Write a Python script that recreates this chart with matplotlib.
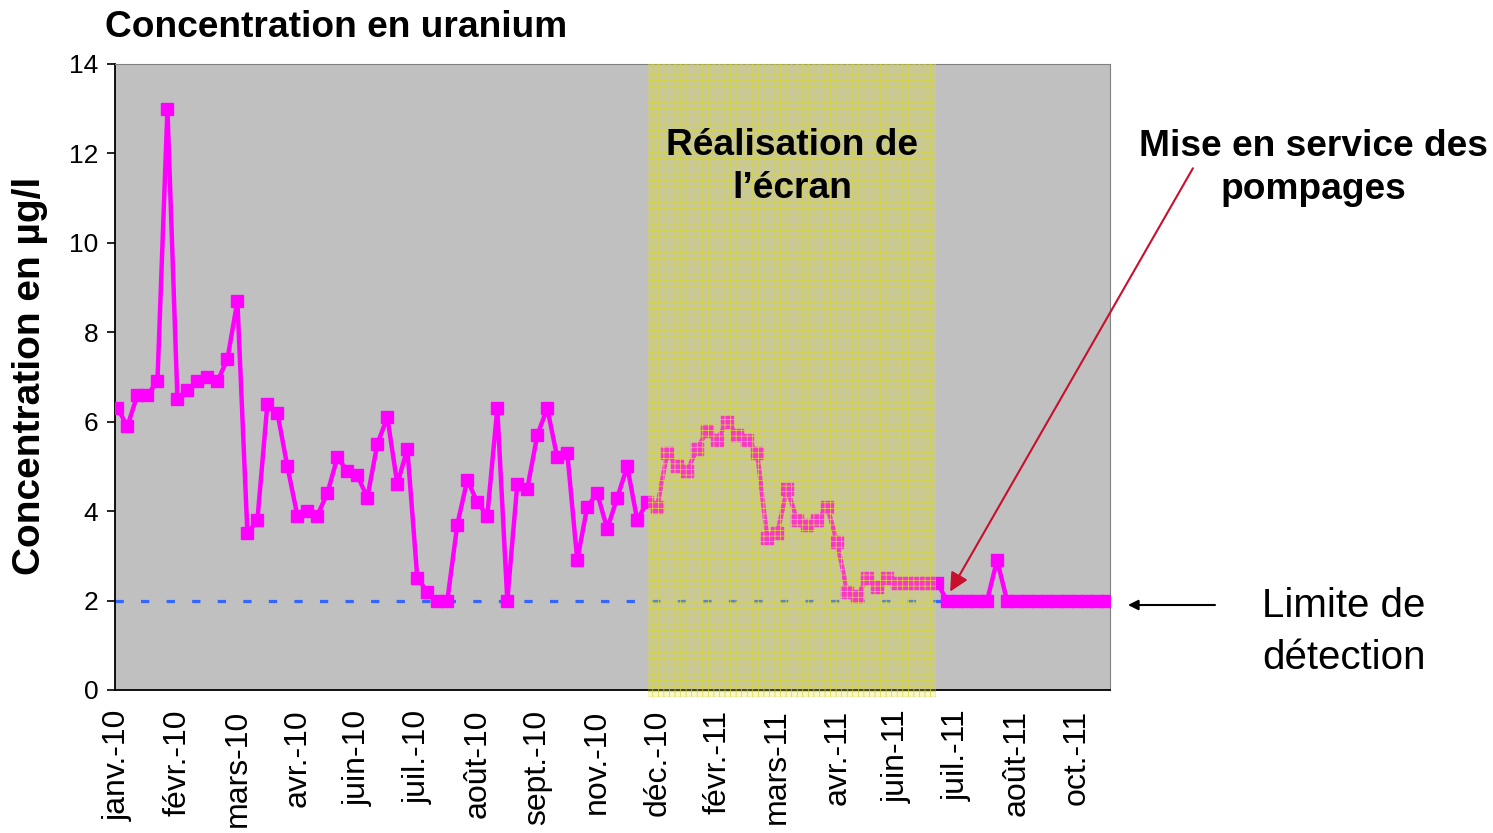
import numpy as np
from matplotlib import pyplot as plt
from matplotlib.patches import Rectangle

# uranium concentration (µg/l), one value per sample
uranium = [6.3, 5.9, 6.6, 6.6, 6.9, 13.0, 6.5, 6.7, 6.9, 7.0,
           6.9, 7.4, 8.7, 3.5, 3.8, 6.4, 6.2, 5.0, 3.9, 4.0,
           3.9, 4.4, 5.2, 4.9, 4.8, 4.3, 5.5, 6.1, 4.6, 5.4,
           2.5, 2.2, 2.0, 2.0, 3.7, 4.7, 4.2, 3.9, 6.3, 2.0,
           4.6, 4.5, 5.7, 6.3, 5.2, 5.3, 2.9, 4.1, 4.4, 3.6,
           4.3, 5.0, 3.8, 4.2, 4.1, 5.3, 5.0, 4.9, 5.4, 5.8,
           5.6, 6.0, 5.7, 5.6, 5.3, 3.4, 3.5, 4.5, 3.8, 3.7,
           3.8, 4.1, 3.3, 2.2, 2.1, 2.5, 2.3, 2.5, 2.4, 2.4,
           2.4, 2.4, 2.4, 2.0, 2.0, 2.0, 2.0, 2.0, 2.9, 2.0,
           2.0, 2.0, 2.0, 2.0, 2.0, 2.0, 2.0, 2.0, 2.0, 2.0]

month_labels = ['janv.-10', 'févr.-10', 'mars-10', 'avr.-10', 'juin-10',
                'juil.-10', 'août-10', 'sept.-10', 'nov.-10', 'déc.-10',
                'févr.-11', 'mars-11', 'avr.-11', 'juin-11', 'juil.-11',
                'août-11', 'oct.-11']
label_step = 6

detection_limit = 2.0


def plotter():
    plt.rcParams['font.family'] = ['Liberation Sans', 'DejaVu Sans']
    plt.rcParams['hatch.linewidth'] = 0.5

    fig = plt.figure(figsize=(14.93, 8.33), dpi=100)
    ax = fig.add_axes([0.0770, 0.1717, 0.6665, 0.7515])
    ax.set_facecolor('#C0C0C0')

    x = np.arange(len(uranium))
    ax.plot(x, uranium, color='#FF00FF', lw=3.2, marker='s', ms=9,
            zorder=3)
    ax.axhline(detection_limit, color='#3366FF', lw=2.3,
               ls=(0, (2.6, 5.4)), zorder=2)

    # works period (yellow dotted band, drawn over the curve)
    band = Rectangle((53.1, -0.15), 28.8, 14.15, facecolor=(0.88, 0.88, 0.15, 0.25),
                     edgecolor='#D6D63C', hatch='+++', lw=0, zorder=4,
                     clip_on=False)
    ax.add_patch(band)
    ax.text(67.5, 11.7, 'Réalisation de\nl’écran', ha='center', va='center',
            fontsize=26.7, fontweight='bold', linespacing=1.3, zorder=5)

    ax.set_xlim(-0.25, 99.3)
    ax.set_ylim(0, 14)
    ax.set_yticks(range(0, 15, 2))
    ax.set_xticks(range(0, len(month_labels) * label_step, label_step))
    ax.set_xticklabels(month_labels, rotation=90, fontsize=23)
    ax.tick_params(axis='x', length=0, pad=14)
    ax.tick_params(axis='y', length=6, width=1.2, pad=6, labelsize=19)

    for s in ['top', 'right']:
        ax.spines[s].set_color('#808080')
    for s in ['left', 'bottom']:
        ax.spines[s].set_color('black')
        ax.spines[s].set_linewidth(1.3)

    fig.text(0.0703, 0.967, 'Concentration en uranium', ha='left',
             va='center', fontsize=26.7, fontweight='bold')
    fig.text(0.020, 0.549, 'Concentration en µg/l', rotation=90,
             ha='center', va='center', fontsize=28, fontweight='bold')

    fig.text(0.8794, 0.798, 'Mise en service des\npompages', ha='center',
             va='center', fontsize=26.7, fontweight='bold', linespacing=1.3)
    ax.annotate('', xy=(83.3, 2.2), xycoords='data',
                xytext=(0.799, 0.798), textcoords='figure fraction',
                arrowprops=dict(arrowstyle='-|>', color='#C8102E', lw=1.5,
                                mutation_scale=28, shrinkA=0, shrinkB=0),
                annotation_clip=False, zorder=6)

    fig.text(0.8453, 0.241, 'Limite de\ndétection', ha='left', va='center',
             fontsize=29, linespacing=1.45)
    fig.add_artist(plt.Annotation('', xy=(0.7555, 0.2737), xycoords='figure fraction',
                                  xytext=(0.8138, 0.2737), textcoords='figure fraction',
                                  arrowprops=dict(arrowstyle='-|>', color='black',
                                                  lw=1.5, mutation_scale=15,
                                                  shrinkA=0, shrinkB=0)))

    fig.savefig('out.png', dpi=100)


if __name__ == '__main__':
    plotter()
